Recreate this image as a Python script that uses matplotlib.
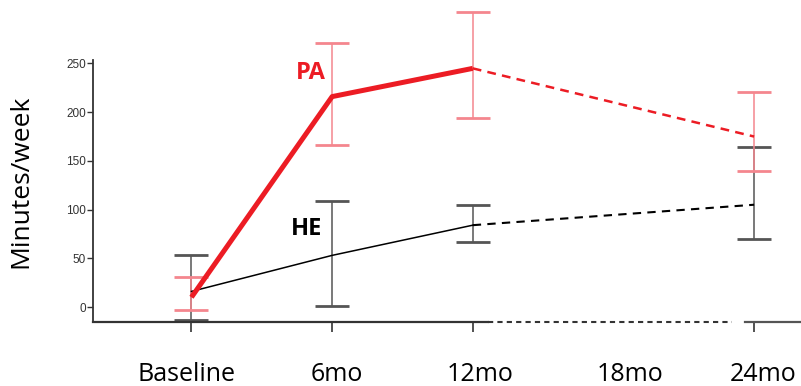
import numpy as np
import matplotlib.pyplot as plt

# 数据
months = [0, 6, 12, 24]
pa_mean = [10, 216, 245, 175]
pa_low = [-3, 166, 194, 140]
pa_high = [31, 271, 303, 221]
he_mean = [16, 53, 84, 105]
he_low = [-13, 1, 67, 70]
he_high = [53, 109, 105, 164]
xlabels = ['Baseline', '6mo', '12mo', '18mo', '24mo']
label_pos = [-0.2, 6.2, 12.3, 18.7, 24.4]
yticks = [0, 50, 100, 150, 200, 250]

red = '#ec1c24'
pink = '#f4868e'

fig = plt.figure(figsize=(8.01, 3.86), dpi=100)
ax = fig.add_axes([0.1161, 0.1658, 0.8839, 0.6788])
ax.set_xlim(-4.2, 26.0)
ax.set_ylim(-15.4, 253.6)

# 误差线
pa_err = [np.subtract(pa_mean, pa_low), np.subtract(pa_high, pa_mean)]
he_err = [np.subtract(he_mean, he_low), np.subtract(he_high, he_mean)]
for mean, err, c, cc in [(he_mean, he_err, '#555555', '#777777'),
                         (pa_mean, pa_err, pink, pink)]:
    eb = ax.errorbar(months, mean, yerr=err, fmt='none', ecolor=c,
                     elinewidth=1.1, capsize=12, capthick=2)
    for cap in eb[1]:
        cap.set_color(cc)
        cap.set_clip_on(False)
    for bl in eb[2]:
        bl.set_clip_on(False)

# 实线部分（到12个月），虚线部分（12到24个月）
ax.plot(months[:3], he_mean[:3], color='black', lw=1.1, clip_on=False)
ax.plot(months[2:], he_mean[2:], color='black', lw=1.5,
        linestyle=(0, (4, 3)), clip_on=False)
ax.plot(months[:3], pa_mean[:3], color=red, lw=3.6, clip_on=False,
        solid_capstyle='butt')
ax.plot(months[2:], pa_mean[2:], color=red, lw=1.8,
        linestyle=(0, (3.5, 2.5)), clip_on=False)

ax.text(5.1, 240, 'PA', color=red, fontsize=17, fontweight='bold',
        family='Open Sans', ha='center', va='center')
ax.text(4.9, 80, 'HE', color='black', fontsize=17, fontweight='bold',
        family='Open Sans', ha='center', va='center')

# 坐标轴
for s in ['top', 'right', 'bottom']:
    ax.spines[s].set_visible(False)
ax.spines['left'].set_color('#333333')
ax.spines['left'].set_linewidth(1.3)
y0 = ax.get_ylim()[0]
ax.plot([-4.2, 12.64], [y0, y0], color='#333333', lw=1.6, clip_on=False)
ax.plot([12.64, 23.05], [y0, y0], color='#333333', lw=1.5,
        linestyle=(0, (2.5, 2)), clip_on=False)
ax.plot([23.6, 26.0], [y0, y0], color='#555555', lw=1.6, clip_on=False)

ax.set_yticks(yticks)
ax.tick_params(axis='y', length=4.5, width=1, color='#333333', pad=0.5,
               labelsize=8.5, labelcolor='#333333')
for t in ax.get_yticklabels():
    t.set_family('Liberation Sans')

ax.set_xticks(label_pos)
ax.set_xticklabels(xlabels, family='Open Sans', fontsize=18)
ax.set_xticks(months, minor=True)
ax.tick_params(axis='x', which='major', length=0, pad=29)
ax.tick_params(axis='x', which='minor', length=7, width=1.2, color='#333333')

ax.set_ylabel('Minutes/week', family='Open Sans', fontsize=19)
ax.yaxis.set_label_coords(-0.084, 0.538)

fig.savefig('out.png', dpi=100)
